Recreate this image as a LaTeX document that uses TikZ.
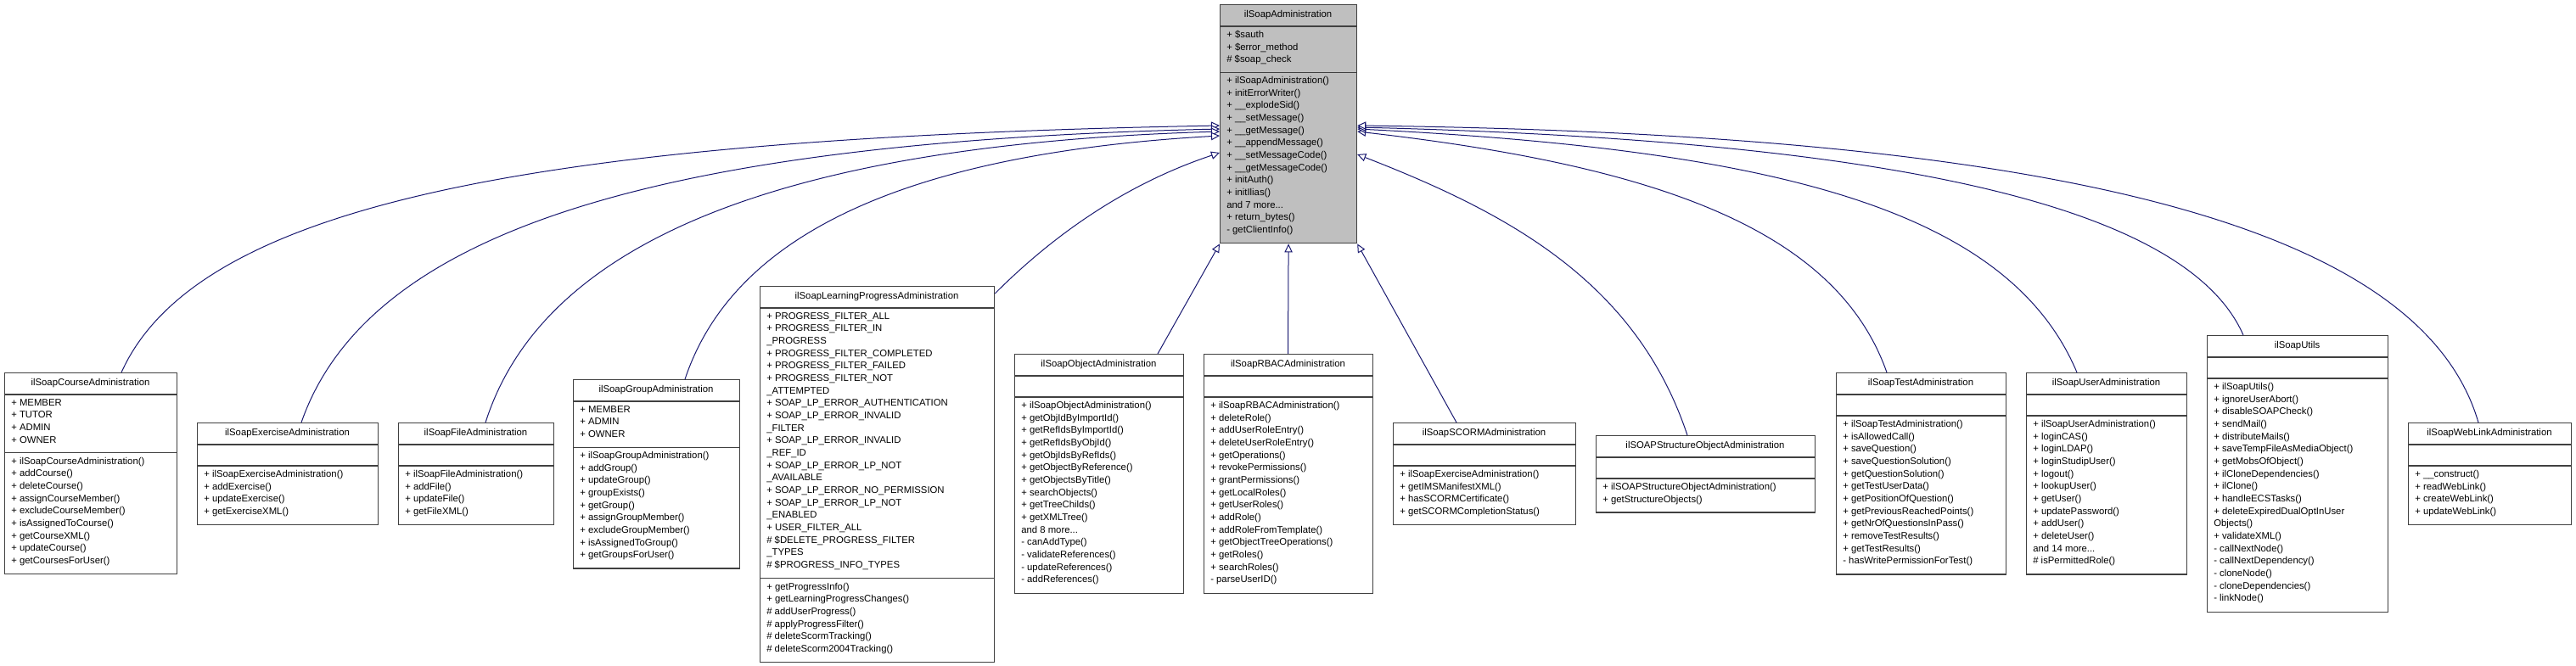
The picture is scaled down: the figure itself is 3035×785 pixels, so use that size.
\documentclass[tikz,border=0pt]{standalone}
\usepackage{fontspec}
\setmainfont{Liberation Sans}
\usetikzlibrary{arrows.meta,calc}

\definecolor{edgeblue}{HTML}{191970}
\definecolor{basegray}{HTML}{BFBFBF}
\definecolor{boxline}{HTML}{404040}

\tikzset{
    cls/.style={draw=boxline, line width=0.9pt, anchor=north west, inner sep=0pt},
    cls line/.style={draw=boxline, line width=0.9pt},
    txt/.style={inner sep=0pt, align=left, anchor=north west, font=\fontsize{8.5}{11}\selectfont},
    ttl/.style={inner sep=0pt, font=\fontsize{8.5}{11}\selectfont},
    inh/.style={draw=edgeblue, line width=0.75pt, -{Triangle[open, length=7.5pt, width=7pt, fill=white]}},
}

% name, x, y, width, attribute lines, method lines, title, attributes, methods
\def\boxfill{white}
\newcommand{\classbox}[9]{%
    \pgfmathsetmacro\hA{#5==0 ? 25 : #5*14.7+10}
    \pgfmathsetmacro\hB{#6*14.7+10}
    \pgfmathsetmacro\hT{26+\hA+\hB}
    \node[cls, fill=\boxfill, minimum width=#4*0.75pt, minimum height=\hT*0.75pt] (#1) at (#2,#3) {};
    \draw[cls line] (#2,#3+26) -- ++(#4,0);
    \draw[cls line] (#2,#3+26+\hA) -- ++(#4,0);
    \node[ttl] at (#2+#4/2,#3+13) {#7};
    \node[txt] at (#2+8,#3+31) {#8};
    \node[txt] at (#2+8,#3+31+\hA) {#9};
}

\begin{document}
\begin{tikzpicture}[x=0.75pt, y=-0.75pt]
    \useasboundingbox (0,0) rectangle (3035,785);

    \def\boxfill{basegray}
    \classbox{base}{1437}{5}{161}{3}{13}{ilSoapAdministration}
        {+ \$sauth\\+ \$error\_method\\\# \$soap\_check}
        {+ ilSoapAdministration()\\+ initErrorWriter()\\+ \_\_explodeSid()\\+ \_\_setMessage()\\+ \_\_getMessage()\\+ \_\_appendMessage()\\+ \_\_setMessageCode()\\+ \_\_getMessageCode()\\+ initAuth()\\+ initIlias()\\and 7 more...\\+ return\_bytes()\\- getClientInfo()}
    \def\boxfill{white}

    \classbox{course}{5}{439}{203}{4}{9}{ilSoapCourseAdministration}
        {+ MEMBER\\+ TUTOR\\+ ADMIN\\+ OWNER}
        {+ ilSoapCourseAdministration()\\+ addCourse()\\+ deleteCourse()\\+ assignCourseMember()\\+ excludeCourseMember()\\+ isAssignedToCourse()\\+ getCourseXML()\\+ updateCourse()\\+ getCoursesForUser()}
    \classbox{exercise}{232}{498}{213}{0}{4}{ilSoapExerciseAdministration}
        {}
        {+ ilSoapExerciseAdministration()\\+ addExercise()\\+ updateExercise()\\+ getExerciseXML()}
    \classbox{file}{469}{498}{183}{0}{4}{ilSoapFileAdministration}
        {}
        {+ ilSoapFileAdministration()\\+ addFile()\\+ updateFile()\\+ getFileXML()}
    \classbox{group}{675}{447}{196}{3}{9}{ilSoapGroupAdministration}
        {+ MEMBER\\+ ADMIN\\+ OWNER}
        {+ ilSoapGroupAdministration()\\+ addGroup()\\+ updateGroup()\\+ groupExists()\\+ getGroup()\\+ assignGroupMember()\\+ excludeGroupMember()\\+ isAssignedToGroup()\\+ getGroupsForUser()}
    \classbox{lp}{895}{337}{276}{21}{6}{ilSoapLearningProgressAdministration}
        {+ PROGRESS\_FILTER\_ALL\\+ PROGRESS\_FILTER\_IN\\\_PROGRESS\\+ PROGRESS\_FILTER\_COMPLETED\\+ PROGRESS\_FILTER\_FAILED\\+ PROGRESS\_FILTER\_NOT\\\_ATTEMPTED\\+ SOAP\_LP\_ERROR\_AUTHENTICATION\\+ SOAP\_LP\_ERROR\_INVALID\\\_FILTER\\+ SOAP\_LP\_ERROR\_INVALID\\\_REF\_ID\\+ SOAP\_LP\_ERROR\_LP\_NOT\\\_AVAILABLE\\+ SOAP\_LP\_ERROR\_NO\_PERMISSION\\+ SOAP\_LP\_ERROR\_LP\_NOT\\\_ENABLED\\+ USER\_FILTER\_ALL\\\# \$DELETE\_PROGRESS\_FILTER\\\_TYPES\\\# \$PROGRESS\_INFO\_TYPES}
        {+ getProgressInfo()\\+ getLearningProgressChanges()\\\# addUserProgress()\\\# applyProgressFilter()\\\# deleteScormTracking()\\\# deleteScorm2004Tracking()}
    \classbox{object}{1195}{417}{199}{0}{15}{ilSoapObjectAdministration}
        {}
        {+ ilSoapObjectAdministration()\\+ getObjIdByImportId()\\+ getRefIdsByImportId()\\+ getRefIdsByObjId()\\+ getObjIdsByRefIds()\\+ getObjectByReference()\\+ getObjectsByTitle()\\+ searchObjects()\\+ getTreeChilds()\\+ getXMLTree()\\and 8 more...\\- canAddType()\\- validateReferences()\\- updateReferences()\\- addReferences()}
    \classbox{rbac}{1418}{417}{199}{0}{15}{ilSoapRBACAdministration}
        {}
        {+ ilSoapRBACAdministration()\\+ deleteRole()\\+ addUserRoleEntry()\\+ deleteUserRoleEntry()\\+ getOperations()\\+ revokePermissions()\\+ grantPermissions()\\+ getLocalRoles()\\+ getUserRoles()\\+ addRole()\\+ addRoleFromTemplate()\\+ getObjectTreeOperations()\\+ getRoles()\\+ searchRoles()\\- parseUserID()}
    \classbox{scorm}{1641}{498}{215}{0}{4}{ilSoapSCORMAdministration}
        {}
        {+ ilSoapExerciseAdministration()\\+ getIMSManifestXML()\\+ hasSCORMCertificate()\\+ getSCORMCompletionStatus()}
    \classbox{struct}{1880}{513}{258}{0}{2}{ilSOAPStructureObjectAdministration}
        {}
        {+ ilSOAPStructureObjectAdministration()\\+ getStructureObjects()}
    \classbox{test}{2163}{439}{200}{0}{12}{ilSoapTestAdministration}
        {}
        {+ ilSoapTestAdministration()\\+ isAllowedCall()\\+ saveQuestion()\\+ saveQuestionSolution()\\+ getQuestionSolution()\\+ getTestUserData()\\+ getPositionOfQuestion()\\+ getPreviousReachedPoints()\\+ getNrOfQuestionsInPass()\\+ removeTestResults()\\+ getTestResults()\\- hasWritePermissionForTest()}
    \classbox{user}{2387}{439}{189}{0}{12}{ilSoapUserAdministration}
        {}
        {+ ilSoapUserAdministration()\\+ loginCAS()\\+ loginLDAP()\\+ loginStudipUser()\\+ logout()\\+ lookupUser()\\+ getUser()\\+ updatePassword()\\+ addUser()\\+ deleteUser()\\and 14 more...\\\# isPermittedRole()}
    \classbox{utils}{2600}{395}{213}{0}{18}{ilSoapUtils}
        {}
        {+ ilSoapUtils()\\+ ignoreUserAbort()\\+ disableSOAPCheck()\\+ sendMail()\\+ distributeMails()\\+ saveTempFileAsMediaObject()\\+ getMobsOfObject()\\+ ilCloneDependencies()\\+ ilClone()\\+ handleECSTasks()\\+ deleteExpiredDualOptInUser\\Objects()\\+ validateXML()\\- callNextNode()\\- callNextDependency()\\- cloneNode()\\- cloneDependencies()\\- linkNode()}
    \classbox{weblink}{2837}{498}{192}{0}{4}{ilSoapWebLinkAdministration}
        {}
        {+ \_\_construct()\\+ readWebLink()\\+ createWebLink()\\+ updateWebLink()}

    % inheritance edges, left side
    \draw[inh] ($(course.north west)+(138,0)$) .. controls +(90,-200) and +(-800,15) .. ($(base.north west)+(0,143)$);
    \draw[inh] ($(exercise.north west)+(123,0)$) .. controls +(80,-230) and +(-650,15) .. ($(base.north west)+(0,147)$);
    \draw[inh] ($(file.north west)+(103,0)$) .. controls +(70,-220) and +(-500,15) .. ($(base.north west)+(0,150)$);
    \draw[inh] ($(group.north west)+(132,0)$) .. controls +(60,-180) and +(-350,20) .. ($(base.north west)+(0,155)$);
    \draw[inh] ($(lp.north east)+(0,9)$) .. controls +(60,-60) and +(-120,40) .. ($(base.north west)+(0,175)$);
    \draw[inh] ($(object.north west)+(169,0)$) -- (base.south west);
    % straight down
    \draw[inh] ($(rbac.north west)+(99.5,0)$) -- (base.south);
    \draw[inh] ($(scorm.north west)+(75,0)$) -- (base.south east);
    % right side
    \draw[inh] ($(struct.north west)+(108,0)$) .. controls +(-60,-180) and +(180,70) .. ($(base.north east)+(0,177)$);
    \draw[inh] ($(test.north west)+(60,0)$) .. controls +(-60,-170) and +(350,40) .. ($(base.north east)+(0,150)$);
    \draw[inh] ($(user.north west)+(60,0)$) .. controls +(-80,-190) and +(500,25) .. ($(base.north east)+(0,147)$);
    \draw[inh] ($(utils.north west)+(43,0)$) .. controls +(-70,-160) and +(600,15) .. ($(base.north east)+(0,145)$);
    \draw[inh] ($(weblink.north west)+(83,0)$) .. controls +(-70,-240) and +(800,10) .. ($(base.north east)+(0,143)$);

\end{tikzpicture}
\end{document}
